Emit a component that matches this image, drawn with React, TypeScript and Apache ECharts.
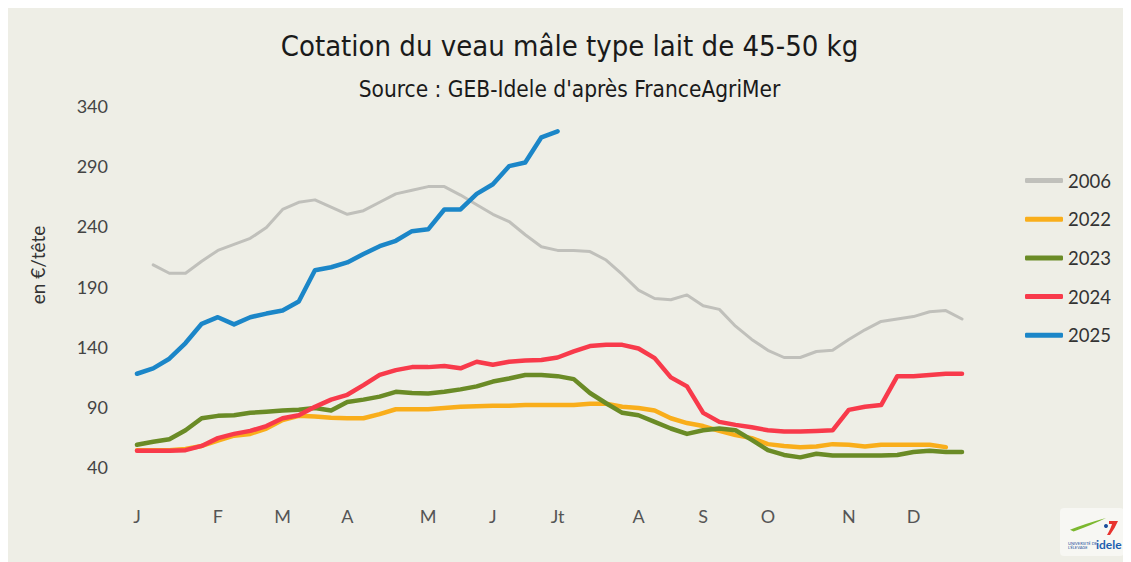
import React, { useEffect, useRef } from "react";
import * as echarts from "echarts";

// ---- Data ----
const weeks: string[] = Array.from({ length: 52 }, (_, i) => `S${i + 1}`);
const monthLabels = ["J", "F", "M", "A", "M", "J", "Jt", "A", "S", "O", "N", "D"];
const monthWeekIndex = [0, 5, 9, 13, 18, 22, 26, 31, 35, 39, 44, 48];

const seriesNames = ["2006", "2022", "2023", "2024", "2025"];

const y2006 = [null, 208, 201, 201, 211, 220, 225, 230, 239, 254, 260, 262, 256, 250, 253, 260, 267, 270, 273, 273, 266, 258, 250, 244, 233, 223, 220, 220, 219, 212, 200, 187, 180, 179, 183, 174, 171, 157, 146, 137, 131, 131, 136, 137, 146, 154, 161, 163, 165, 169, 170, 163];
const y2022 = [54, 54, 54, 55, 57.5, 62, 66, 67.5, 72, 79, 82.5, 82, 81, 80.5, 80.5, 84, 88, 88, 88, 89, 90, 90.5, 91, 91, 91.5, 91.5, 91.5, 91.5, 92.5, 92.5, 90, 89, 87, 80.5, 76.5, 74, 70, 66.5, 64, 59, 57.5, 56.5, 57, 59, 58.5, 57, 58.5, 58.5, 58.5, 58.5, 56.5, null];
const y2023 = [58.5, 61, 63, 70.5, 80.5, 82.5, 83, 85, 86, 87, 87.5, 89, 87, 94, 96, 98.5, 102.5, 101.5, 101, 102.5, 104.5, 107, 111, 113.5, 116.5, 116.5, 115.5, 113, 101.5, 93, 85, 83, 77.5, 72, 67.5, 70.5, 72, 70.5, 62.5, 54, 50, 48, 51, 49.5, 49.5, 49.5, 49.5, 50, 52.5, 53.5, 52.5, 52.5];
const y2024 = [53.5, 53.5, 53.5, 54, 57.5, 64, 67.5, 70, 74, 80.5, 83, 90, 96, 100, 108, 116.5, 120.5, 123, 123, 124, 122, 127.5, 125, 127.5, 128.5, 129, 131, 136, 140.5, 141.5, 141.5, 138.5, 130.5, 114.5, 107, 85, 77.5, 75, 73, 70.5, 69.5, 69.5, 70, 70.5, 87.5, 90, 91.5, 115.5, 115.5, 116.5, 117.5, 117.5];
const y2025 = [117.5, 122, 130, 143, 159, 164.5, 158.5, 164.5, 167.5, 170, 177.5, 203.5, 206, 210, 217, 223.5, 228, 236, 237.5, 254, 254, 267, 275, 290, 293, 314, 319];

const seriesData = [y2006, y2022, y2023, y2024, y2025];
const seriesColors = ["#c0c0bb", "#f9ae1b", "#6a8b26", "#f83a4b", "#1b86c8"];
const seriesWidths = [3, 4.5, 4.5, 4.5, 4.5];

const yTicks = { min: 40, max: 340, interval: 50 };

echarts.graphic.registerShape(
  "ideleSwoosh",
  echarts.graphic.extendPath("M0 13 Q18 6 40 0 Q26 7 4 15 Z", {}) as any
);
echarts.graphic.registerShape(
  "ideleRed",
  echarts.graphic.extendPath("M2 0 L11 0 Q8 7 3 14 L0 14 Q4 7 5 3 L2 3 Z", {}) as any
);

export default function App() {
  const ref = useRef<HTMLDivElement>(null);
  useEffect(() => {
    document.documentElement.style.overflow = "hidden";
    const chart = echarts.init(ref.current!, null, { renderer: "svg" });
    const font = "Lato, 'Open Sans', sans-serif";
    const condensed = "'Liberation Sans Narrow', 'DejaVu Sans Condensed', sans-serif";
    chart.setOption({
      animation: false,
      backgroundColor: "#eeeee6",
      title: [
        {
          text: "Cotation du veau mâle type lait de 45-50 kg",
          left: "center",
          top: 18,
          textStyle: { fontFamily: condensed, fontSize: 29, fontWeight: "normal", color: "#1a1a1a" },
        },
        {
          text: "Source : GEB-Idele d'après FranceAgriMer",
          left: "center",
          top: 64,
          textStyle: { fontFamily: condensed, fontSize: 22.5, fontWeight: "normal", color: "#1a1a1a" },
        },
      ],
      grid: { left: 129, right: 169, top: 98, bottom: 95 },
      legend: {
        orient: "vertical",
        left: 1012,
        top: 158,
        itemWidth: 38,
        itemHeight: 5,
        itemGap: 19.7,
        icon: "roundRect",
        data: seriesNames,
        textStyle: { fontFamily: font, fontSize: 18.5, color: "#333", lineHeight: 18 },
      },
      xAxis: {
        type: "category",
        data: weeks,
        boundaryGap: false,
        axisLine: { show: false },
        axisTick: { show: false },
        splitLine: { show: false },
        axisLabel: {
          interval: 0,
          margin: 40,
          fontFamily: font,
          fontSize: 18,
          color: "#555",
          formatter: (_v: string, idx: number) => {
            const k = monthWeekIndex.indexOf(idx);
            return k >= 0 ? monthLabels[k] : "";
          },
        },
      },
      yAxis: {
        type: "value",
        min: yTicks.min,
        max: yTicks.max,
        interval: yTicks.interval,
        axisLine: { show: false },
        axisTick: { show: false },
        splitLine: { show: false },
        axisLabel: { margin: 29, fontFamily: font, fontSize: 18, color: "#444" },
      },
      series: seriesNames.map((name, i) => ({
        name,
        type: "line",
        data: seriesData[i],
        showSymbol: false,
        symbol: "none",
        connectNulls: false,
        color: seriesColors[i],
        lineStyle: { width: seriesWidths[i], color: seriesColors[i], cap: "round", join: "round" },
        z: 2 + i,
      })),
      graphic: [
        {
          type: "text",
          x: 29,
          y: 257,
          rotation: Math.PI / 2,
          style: {
            text: "en €/tête",
            fontFamily: font,
            fontSize: 19,
            fill: "#333",
            align: "center",
            verticalAlign: "middle",
          },
        },
        {
          type: "group",
          x: 1052,
          y: 500,
          children: [
            { type: "rect", shape: { x: 0, y: 0, width: 64, height: 48, r: 4 }, style: { fill: "#f7f7f3" } },
            { type: "ideleSwoosh", x: 10, y: 10, scaleX: 0.9, scaleY: 0.9, style: { fill: "#7cb82f" } },
            { type: "ideleRed", x: 47, y: 13, style: { fill: "#e8342f" } },
            { type: "circle", shape: { cx: 46, cy: 18, r: 2 }, style: { fill: "#1d4f9c" } },
            { type: "text", x: 8, y: 33, style: { text: "UNIVERSITÉ DE\nL'ÉLEVAGE", fontSize: 4, fill: "#1d4f9c", fontFamily: font } },
            { type: "text", x: 36, y: 30, style: { text: "idele", fontSize: 12, fontWeight: "bold", fill: "#1d5fb0", fontFamily: font } },
          ],
        },
      ],
    });
    return () => chart.dispose();
  }, []);
  return <div ref={ref} style={{ width: 1123, height: 554 }} />;
}
